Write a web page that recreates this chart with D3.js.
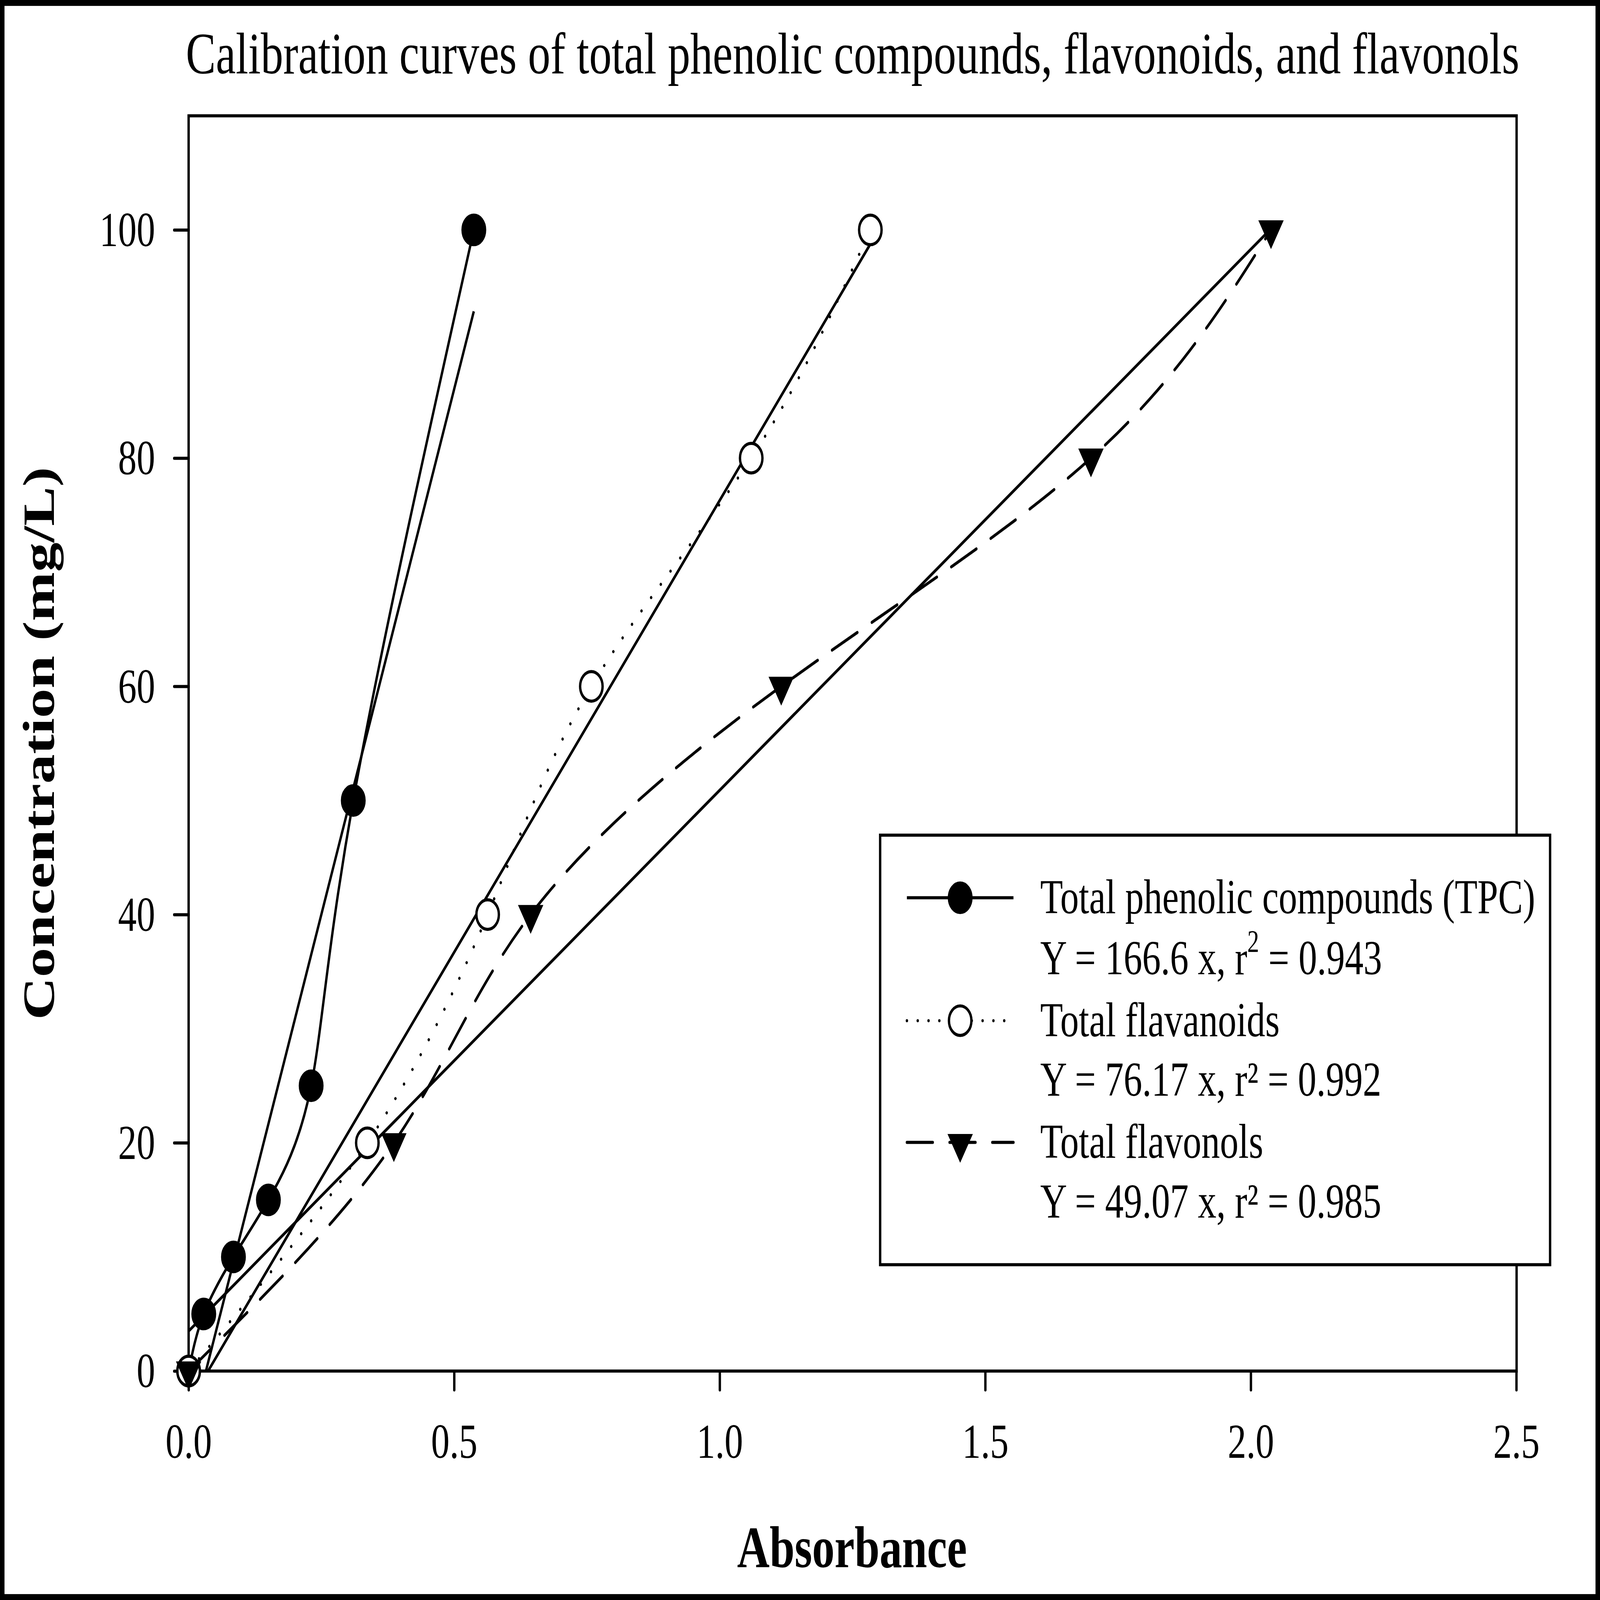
<!DOCTYPE html>
<html>
<head>
<meta charset="utf-8">
<script src="https://cdn.jsdelivr.net/npm/d3@7"></script>
<style>
  html, body { margin: 0; padding: 0; background: #fff; overflow: hidden; width: 100%; height: 100%; }
  svg { display: block; width: 100vw; height: 100vh; }
  text { font-family: "Liberation Serif", "Times New Roman", serif; fill: #000; }
</style>
</head>
<body>
<script>
// ---------------- DATA ----------------
const tpcX = [0, 0.0285, 0.0844, 0.1502, 0.2307, 0.310, 0.537];
const tpcY = [0, 5, 10, 15, 25, 50, 100];

const flavanoidX = [0, 0.3365, 0.563, 0.7583, 1.0593, 1.2836];
const flavanoidY = [0, 20, 40, 60, 80, 100];

const flavonolX = [0, 0.3864, 0.644, 1.1158, 1.699, 2.038];
const flavonolY = [0, 20, 40, 60, 80, 100];

// regression lines as drawn (TPC, flavanoids, flavonols)
const regIntercept = [-6.0, -2.9, 3.5];
const regSlope = [184.1, 79.2, 47.4];
const regXmax = [0.537, 1.2836, 2.038];

const xTicks = [0, 0.5, 1.0, 1.5, 2.0, 2.5];
const yTicks = [0, 20, 40, 60, 80, 100];

const titleText = "Calibration curves of total phenolic compounds, flavonoids, and flavonols";
const xTitle = "Absorbance";
const yTitle = "Concentration (mg/L)";
const legendNames = ["Total phenolic compounds (TPC)", "Total flavanoids", "Total flavonols"];
const legendEqPre = ["Y = 166.6 x, r", "Y = 76.17 x, r² = 0.992", "Y = 49.07 x, r² = 0.985"];

// ---------------- LAYOUT ----------------
const W = 7117, H = 5416;
const pL = 839, pR = 6746, pT = 392, pB = 4641;
const LW = 10.5;

const svg = d3.select("body").append("svg")
  .attr("viewBox", `0 0 ${W} ${H}`)
  .attr("preserveAspectRatio", "none");

svg.append("rect").attr("x", 0).attr("y", 0).attr("width", W).attr("height", H).attr("fill", "#fff");

const x = d3.scaleLinear().domain([0, 2.5]).range([pL, 6745]);
const y = d3.scaleLinear().domain([0, 110]).range([pB, pT]);

svg.append("clipPath").attr("id", "plotclip")
  .append("rect").attr("x", pL).attr("y", pT).attr("width", pR - pL).attr("height", pB - pT);

// ---------------- CURVES ----------------
const zip = (xs, ys) => xs.map((v, i) => [v, ys[i]]);
const tpc = zip(tpcX, tpcY);
const fla = zip(flavanoidX, flavanoidY);
const flo = zip(flavonolX, flavonolY);

const spline = d3.line().x(d => x(d[0])).y(d => y(d[1])).curve(d3.curveNatural);
const straight = d3.line().x(d => x(d[0])).y(d => y(d[1]));

const gLines = svg.append("g").attr("clip-path", "url(#plotclip)")
  .attr("fill", "none").attr("stroke", "#000").attr("stroke-width", LW);

regIntercept.forEach((a, i) => {
  const b = regSlope[i];
  const pts = [[0, a], [regXmax[i], a + b * regXmax[i]]];
  gLines.append("path").attr("d", straight(pts));
});

gLines.append("path").attr("d", spline(tpc));
gLines.append("path").attr("d", spline(fla))
  .attr("stroke-dasharray", "0.1 62").attr("stroke-linecap", "round");
gLines.append("path").attr("d", spline(flo))
  .attr("stroke-dasharray", "127 73").attr("stroke-linecap", "round");

// ---------------- FRAME & AXES ----------------
svg.append("rect").attr("x", pL).attr("y", pT)
  .attr("width", pR - pL).attr("height", pB - pT)
  .attr("fill", "none").attr("stroke", "#000").attr("stroke-width", LW);

const xAxis = d3.axisBottom(x).tickValues(xTicks).tickFormat(d3.format(".1f"))
  .tickSize(64).tickPadding(112);
const gx = svg.append("g").attr("transform", `translate(0,${pB})`).call(xAxis);
gx.select(".domain").remove();
gx.selectAll(".tick line").attr("stroke", "#000").attr("stroke-width", LW).attr("stroke-linecap", "round");
gx.selectAll(".tick text").attr("font-size", 165).attr("font-family", "Liberation Serif, Times New Roman, serif");

const yAxis = d3.axisLeft(y).tickValues(yTicks).tickFormat(d3.format("d"))
  .tickSize(64).tickPadding(85);
const gy = svg.append("g").attr("transform", `translate(${pL},0)`).call(yAxis);
gy.select(".domain").remove();
gy.selectAll(".tick line").attr("stroke", "#000").attr("stroke-width", LW).attr("stroke-linecap", "round");
gy.selectAll(".tick text").attr("font-size", 165).attr("dy", "0.33em").attr("font-family", "Liberation Serif, Times New Roman, serif");

// ---------------- MARKERS ----------------
const R = 50;
const triSym = d3.symbol().type(d3.symbolTriangle).size(4700);

function filledCircle(g, cx, cy) {
  g.append("circle").attr("cx", cx).attr("cy", cy).attr("r", R)
    .attr("fill", "#000").attr("stroke", "#000").attr("stroke-width", LW);
}
function openCircle(g, cx, cy) {
  g.append("circle").attr("cx", cx).attr("cy", cy).attr("r", R)
    .attr("fill", "#fff").attr("stroke", "#000").attr("stroke-width", LW);
}
function triangle(g, cx, cy) {
  g.append("path").attr("d", triSym())
    .attr("transform", `translate(${cx},${cy}) rotate(180)`)
    .attr("fill", "#000").attr("stroke", "#000").attr("stroke-width", 5);
}

const gm = svg.append("g");
tpc.forEach(d => filledCircle(gm, x(d[0]), y(d[1])));
fla.forEach(d => openCircle(gm, x(d[0]), y(d[1])));
flo.forEach(d => triangle(gm, x(d[0]), y(d[1])));

// ---------------- TEXTS ----------------
svg.append("text").attr("x", (pL + pR) / 2).attr("y", 249)
  .attr("text-anchor", "middle").attr("font-size", 200).text(titleText);

svg.append("text").attr("x", 3790).attr("y", 5305)
  .attr("text-anchor", "middle").attr("font-size", 200).attr("font-weight", "bold").text(xTitle);

svg.append("text").attr("transform", `translate(239,${(pT + pB) / 2}) rotate(-90)`)
  .attr("text-anchor", "middle").attr("font-size", 200).attr("font-weight", "bold").text(yTitle);

// ---------------- LEGEND ----------------
const lgX0 = 3915, lgY0 = 2827, lgX1 = 6895, lgY1 = 4281;
svg.append("rect").attr("x", lgX0).attr("y", lgY0).attr("width", lgX1 - lgX0).attr("height", lgY1 - lgY0)
  .attr("fill", "#fff").attr("stroke", "#000").attr("stroke-width", LW);

const symRowY = [3039, 3455, 3867];
const nameBase = [3092, 3508, 3919];
const eqBase = [3298, 3709, 4121];
const lineX0 = 4034, lineX1 = 4508, symX = 4271, textX = 4627;
const dashes = [null, "0.1 48", "115 75"];

const gl = svg.append("g");
symRowY.forEach((sy, i) => {
  const p = gl.append("line").attr("x1", lineX0).attr("x2", lineX1).attr("y1", sy).attr("y2", sy)
    .attr("stroke", "#000").attr("stroke-width", LW);
  if (dashes[i]) p.attr("stroke-dasharray", dashes[i]).attr("stroke-linecap", "round");
  if (i === 0) filledCircle(gl, symX, sy);
  if (i === 1) openCircle(gl, symX, sy);
  if (i === 2) triangle(gl, symX, sy + 4);

  gl.append("text").attr("x", textX).attr("y", nameBase[i]).attr("font-size", 165).text(legendNames[i]);
  const t = gl.append("text").attr("x", textX).attr("y", eqBase[i]).attr("font-size", 165);
  if (i === 0) {
    t.append("tspan").text(legendEqPre[0]);
    t.append("tspan").attr("font-size", 105).attr("dy", -75).text("2");
    t.append("tspan").attr("dy", 75).text(" = 0.943");
  } else {
    t.text(legendEqPre[i]);
  }
});

// ---------------- OUTER BORDER ----------------
svg.append("rect").attr("x", 10).attr("y", 10).attr("width", W - 20).attr("height", H - 20)
  .attr("fill", "none").attr("stroke", "#000").attr("stroke-width", 20);
</script>
</body>
</html>
